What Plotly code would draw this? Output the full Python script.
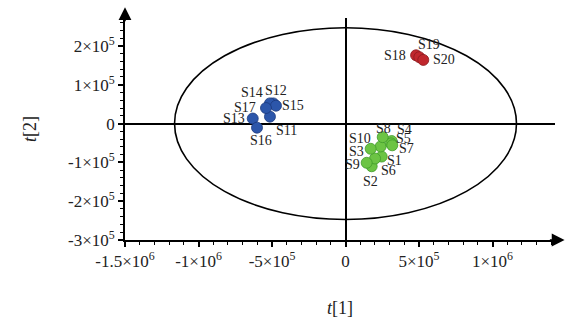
import plotly.graph_objects as go

# ---- data ----
blue_names = ["S11", "S12", "S13", "S14", "S15", "S16", "S17"]
blue_x = [-5.14e5, -4.91e5, -6.31e5, -5.14e5, -4.73e5, -6.02e5, -5.41e5]
blue_y = [1.78e4, 5.2e4, 1.3e4, 5.2e4, 4.6e4, -1.06e4, 4.0e4]

green_names = ["S1", "S2", "S3", "S4", "S5", "S6", "S7", "S8", "S9", "S10"]
green_x = [2.46e5, 1.78e5, 2.39e5, 3.14e5, 3.10e5, 2.01e5, 3.18e5, 2.53e5, 1.44e5, 1.71e5]
green_y = [-8.5e4, -1.10e5, -5.9e4, -4.5e4, -5.1e4, -9.0e4, -5.6e4, -3.5e4, -1.01e5, -6.5e4]

red_names = ["S18", "S19", "S20"]
red_x = [4.80e5, 5.02e5, 5.29e5]
red_y = [1.76e5, 1.71e5, 1.64e5]

x_tickvals = [-1.5e6, -1e6, -5e5, 0, 5e5, 1e6]
x_ticktext = ["-1.5×10<sup>6</sup>", "-1×10<sup>6</sup>", "-5×10<sup>5</sup>", "0",
              "5×10<sup>5</sup>", "1×10<sup>6</sup>"]
y_tickvals = [2e5, 1e5, 0, -1e5, -2e5, -3e5]
y_ticktext = ["2×10<sup>5</sup>", "1×10<sup>5</sup>", "0", "-1×10<sup>5</sup>",
              "-2×10<sup>5</sup>", "-3×10<sup>5</sup>"]

# Hotelling ellipse semi-axes
ellipse_a = 1.163e6
ellipse_b = 2.47e5

# ---- label offsets (pixels) ----
label_offsets = {
    "S1": (13, -4), "S2": (-1, -15), "S3": (-24, -5), "S4": (13, 12), "S5": (12, 5),
    "S6": (13, -12), "S7": (14, -3), "S8": (1, 9), "S9": (-14, -2), "S10": (-11, 10),
    "S11": (17, -14), "S12": (3, 13), "S13": (-19, 0), "S14": (-18, 11), "S15": (17, 0),
    "S16": (4, -13), "S17": (-21, 1), "S18": (-21, 0), "S19": (10, 13), "S20": (21, 0),
}

FONT = "Liberation Serif"

fig = go.Figure()

groups = [
    (blue_names, blue_x, blue_y, "#2C56AA", "#1C3A7E"),
    (green_names, green_x, green_y, "#6CC444", "#3F9A2A"),
    (red_names, red_x, red_y, "#C0272D", "#8A1A1E"),
]

fig.add_shape(type="circle", xref="x", yref="y",
              x0=-ellipse_a, x1=ellipse_a, y0=-ellipse_b, y1=ellipse_b,
              line=dict(color="black", width=1.6), layer="below")

annotations = []
for names, xs, ys, fill, edge in groups:
    fig.add_trace(go.Scatter(
        x=xs, y=ys, mode="markers", showlegend=False, hoverinfo="text", text=names,
        marker=dict(size=11, color=fill, line=dict(color=edge, width=0.8)),
    ))
    for n, xv, yv in zip(names, xs, ys):
        dx, dy = label_offsets[n]
        annotations.append(dict(x=xv, y=yv, xref="x", yref="y", text=n, showarrow=False,
                                xshift=dx, yshift=dy, xanchor="center", yanchor="middle",
                                font=dict(family=FONT, size=14, color="#222")))

# axis arrows
annotations.append(dict(x=-1.5e6, y=3.0e5, ax=-1.5e6, ay=2.6e5, xref="x", yref="y",
                        axref="x", ayref="y", text="", showarrow=True, arrowhead=2,
                        arrowsize=1.6, arrowwidth=1.6, arrowcolor="black", standoff=0))
annotations.append(dict(x=1.49e6, y=-3e5, ax=1.38e6, ay=-3e5, xref="x", yref="y",
                        axref="x", ayref="y", text="", showarrow=True, arrowhead=2,
                        arrowsize=1.6, arrowwidth=1.6, arrowcolor="black", standoff=0))

# axis titles
annotations.append(dict(x=0.5, y=0, xref="paper", yref="paper", yshift=-68,
                        text="<i>t</i>[1]", showarrow=False, xanchor="center", yanchor="middle",
                        font=dict(family=FONT, size=18, color="#222")))
annotations.append(dict(x=0, y=0.5, xref="paper", yref="paper", xshift=-95,
                        text="<i>t</i>[2]", showarrow=False, textangle=-90,
                        xanchor="center", yanchor="middle",
                        font=dict(family=FONT, size=18, color="#222")))

fig.update_layout(
    width=574, height=322,
    margin=dict(l=125, r=19, t=18, b=82),
    plot_bgcolor="white", paper_bgcolor="white",
    annotations=annotations,
    font=dict(family=FONT, size=17, color="#222"),
    xaxis=dict(range=[-1.5e6, 1.425e6], tickvals=x_tickvals, ticktext=x_ticktext,
               showgrid=False, zeroline=True, zerolinecolor="black", zerolinewidth=1.6,
               showline=True, linecolor="black", linewidth=1.6,
               ticks="outside", ticklen=5, tickwidth=1.5, tickcolor="black",
               minor=dict(ticks="outside", dtick=1e5, tick0=0, ticklen=3,
                          tickwidth=1.2, tickcolor="black", showgrid=False),
               tickfont=dict(family=FONT, size=17, color="#222")),
    yaxis=dict(range=[-3e5, 2.72e5], tickvals=y_tickvals, ticktext=y_ticktext,
               showgrid=False, zeroline=True, zerolinecolor="black", zerolinewidth=1.6,
               showline=True, linecolor="black", linewidth=1.6,
               ticks="outside", ticklen=5, tickwidth=1.5, tickcolor="black",
               minor=dict(ticks="outside", dtick=2e4, tick0=0, ticklen=3,
                          tickwidth=1.2, tickcolor="black", showgrid=False),
               tickfont=dict(family=FONT, size=17, color="#222")),
)

fig.write_html("out.html", config={"displayModeBar": False},
               post_script="document.body.style.margin='0';")
